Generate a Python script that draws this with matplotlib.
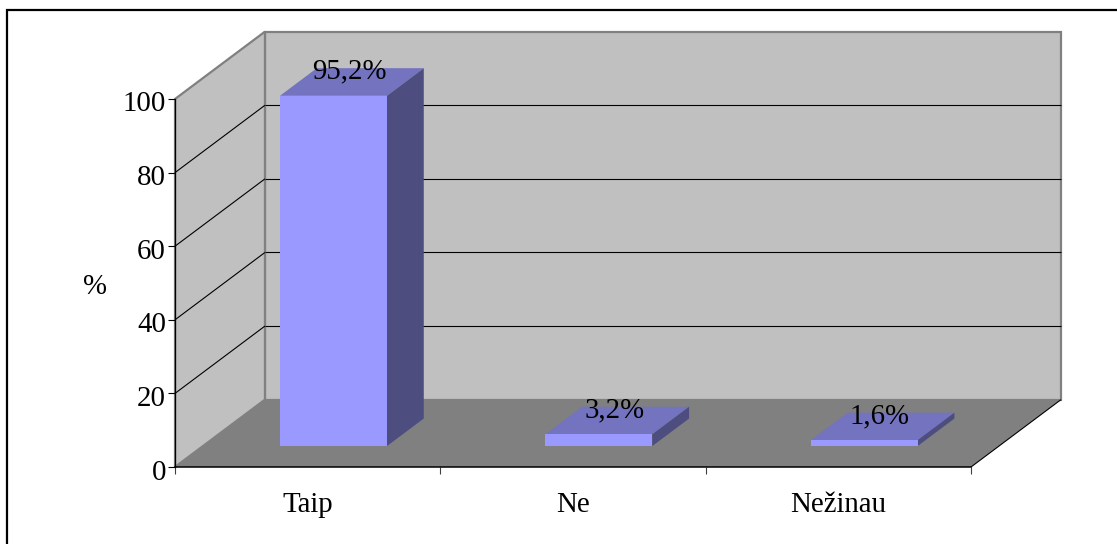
from matplotlib import pyplot as plt
from matplotlib.lines import Line2D
from matplotlib.patches import Polygon
from matplotlib.transforms import ScaledTranslation

categories = ["Taip", "Ne", "Nežinau"]
values = [95.2, 3.2, 1.6]
value_labels = ["95,2%", "3,2%", "1,6%"]
y_ticks = [0, 20, 40, 60, 80, 100]

WIDTH, HEIGHT = 1117, 544

# oblique projection: how far one unit of depth moves a point, in data units
DEPTH_X = 0.339
DEPTH_Y = 18.3

BAR_WIDTH = 0.403
BAR_NEAR = 0.31
BAR_FAR = 0.72

FONT_SIZE = 20.8

WALL = "#c0c0c0"
FLOOR = "#808080"
EDGE = "#808080"
BAR_FRONT = "#9999ff"
BAR_TOP = "#7373bf"
BAR_SIDE = "#4d4d80"


def project(x, y, depth):
    return (x + depth * DEPTH_X, y + depth * DEPTH_Y)


def face(ax, corners, color, zorder, edge="none", lw=0):
    ax.add_patch(Polygon([project(*c) for c in corners], closed=True, facecolor=color,
                         edgecolor=edge, linewidth=lw, clip_on=False, zorder=zorder))


def line3d(ax, start, end, color, lw, zorder):
    p0 = project(*start)
    p1 = project(*end)
    ax.plot([p0[0], p1[0]], [p0[1], p1[1]], color=color, linewidth=lw, clip_on=False,
            zorder=zorder, solid_capstyle="butt")


plt.rcParams["font.family"] = ["Liberation Serif", "DejaVu Serif"]

figure = plt.figure(figsize=(WIDTH / 100, HEIGHT / 100), dpi=100)
ax = figure.add_axes([175 / WIDTH, (HEIGHT - 467) / HEIGHT, 796 / WIDTH, 368 / HEIGHT])
ax.set_xlim(0, len(categories))
ax.set_ylim(0, 100)
ax.patch.set_visible(False)

# walls and floor
n = len(categories)
face(ax, [(0, 0, 1), (n, 0, 1), (n, 100, 1), (0, 100, 1)], WALL, 1, EDGE, 1.6)
face(ax, [(0, 0, 0), (0, 100, 0), (0, 100, 1), (0, 0, 1)], WALL, 1, EDGE, 1.6)
face(ax, [(0, 0, 0), (n, 0, 0), (n, 0, 1), (0, 0, 1)], FLOOR, 2)

# grid lines run along the side wall and then across the back
for tick in y_ticks[1:-1]:
    line3d(ax, (0, tick, 0), (0, tick, 1), "black", 0.8, 3)
    line3d(ax, (0, tick, 1), (n, tick, 1), "black", 0.8, 3)
line3d(ax, (n, 0, 0), (n, 0, 1), "black", 0.8, 3)

# bars
for i, value in enumerate(values):
    left = i + 0.5 - BAR_WIDTH / 2 - 0.008
    right = left + BAR_WIDTH
    face(ax, [(left, value, BAR_NEAR), (right, value, BAR_NEAR), (right, value, BAR_FAR), (left, value, BAR_FAR)],
         BAR_TOP, 4)
    face(ax, [(right, 0, BAR_NEAR), (right, 0, BAR_FAR), (right, value, BAR_FAR), (right, value, BAR_NEAR)],
         BAR_SIDE, 4)
    face(ax, [(left, 0, BAR_NEAR), (right, 0, BAR_NEAR), (right, value, BAR_NEAR), (left, value, BAR_NEAR)],
         BAR_FRONT, 5)
    label_pos = project((left + right) / 2, value, (BAR_NEAR + BAR_FAR) / 2)
    ax.annotate(value_labels[i], xy=label_pos, xytext=(-2, 7.5), textcoords="offset points",
                ha="center", va="center", fontsize=FONT_SIZE, color="black", zorder=6, annotation_clip=False)

ax.spines["top"].set_visible(False)
ax.spines["right"].set_visible(False)
ax.spines["left"].set_linewidth(0.9)
ax.spines["bottom"].set_linewidth(1.1)
ax.spines["left"].set_zorder(7)
ax.spines["bottom"].set_zorder(7)

ax.set_yticks(y_ticks)
ax.set_xticks(range(n + 1))
ax.set_xticklabels([])
ax.set_xticks([i + 0.5 for i in range(n)], minor=True)
ax.set_xticklabels(categories, minor=True)
ax.tick_params(axis="x", which="major", length=5, width=0.8, color="#404040")
ax.tick_params(axis="x", which="minor", length=0, labelsize=FONT_SIZE, pad=18)
ax.tick_params(axis="y", which="major", length=5, width=0.8, labelsize=FONT_SIZE, pad=1.5)

# y labels sit a little under their ticks
down = ScaledTranslation(0, -2.5 / 100, figure.dpi_scale_trans)
for label in ax.get_yticklabels():
    label.set_transform(label.get_transform() + down)

ax.set_ylabel("%", rotation=0, fontsize=FONT_SIZE, va="center", ha="center")
ax.yaxis.set_label_coords(-80 / 796, (467 - 287) / 368)

# outer frame, only the top and left edges fall inside the image
frame_x = [7 / WIDTH, 7 / WIDTH, 1]
frame_y = [0, 1 - 10 / HEIGHT, 1 - 10 / HEIGHT]
figure.add_artist(Line2D(frame_x, frame_y, color="black", linewidth=1.6, solid_joinstyle="miter"))

figure.savefig("out.png", dpi=100)
plt.close(figure)
